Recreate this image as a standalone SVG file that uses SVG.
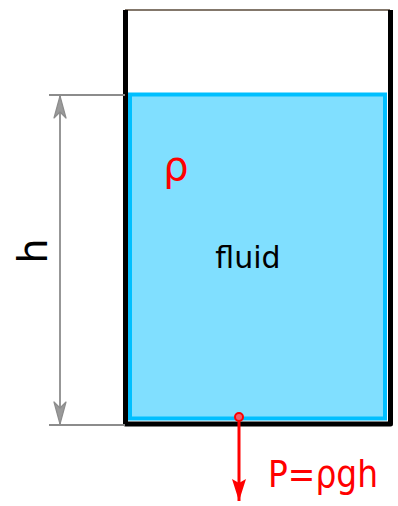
<svg xmlns="http://www.w3.org/2000/svg" width="398" height="506" viewBox="0 0 398 506">
<defs>
<style>
.dim{stroke:#8c8c8c;stroke-width:2;fill:none}
.red{fill:#ff0000;font-family:"DejaVu Sans","Liberation Sans",sans-serif}
</style>
<marker id="garr" viewBox="0 0 24 14" refX="23" refY="7" markerWidth="24" markerHeight="14" markerUnits="userSpaceOnUse" orient="auto-start-reverse">
<path d="M23,7 L1,1 L7,7 L1,13 Z" fill="#9a9a9a" stroke="#8c8c8c" stroke-width="1.2" stroke-linejoin="round"/>
</marker>
<marker id="rarr" viewBox="0 0 24 16" refX="23" refY="8" markerWidth="24" markerHeight="16" markerUnits="userSpaceOnUse" orient="auto">
<path d="M23,8 L1,1 L5,8 L1,15 Z" fill="#ff0000"/>
</marker>
</defs>
<g id="tank">
<rect x="130" y="94.5" width="255" height="324" fill="#80dfff" stroke="#00bfff" stroke-width="4"/>
<line x1="125" y1="10" x2="390" y2="10" stroke="#5a4a3a" stroke-width="1.5"/>
<polyline points="125.5,10 125.5,424 390.5,424 390.5,10" fill="none" stroke="#000" stroke-width="5" stroke-linejoin="round"/>
</g>
<g id="connectors">
<line class="dim" x1="49" y1="95" x2="125" y2="95"/>
<line class="dim" x1="49" y1="425" x2="125" y2="425"/>
<line class="dim" x1="60" y1="96" x2="60" y2="424" marker-start="url(#garr)" marker-end="url(#garr)" style="stroke-width:1.8"/>
<line x1="239" y1="417" x2="239" y2="501" stroke="#ff0000" stroke-width="3" marker-end="url(#rarr)"/>
<circle cx="239" cy="417" r="4" fill="#f06070" stroke="#ff0000" stroke-width="2"/>
</g>
<g id="label-h">
<text x="0" y="0" transform="translate(47,251) rotate(-90)" text-anchor="middle" font-family="DejaVu Sans,sans-serif" font-size="40" fill="#000">h</text>
</g>
<g id="label-fluid">
<text x="248" y="268" text-anchor="middle" font-family="DejaVu Sans,sans-serif" font-size="30" fill="#000">fluid</text>
</g>
<g id="label-rho">
<text class="red" x="176" y="180" text-anchor="middle" font-size="40">ρ</text>
</g>
<g id="label-formula">
<text class="red" x="268" y="487" font-size="38" textLength="110" lengthAdjust="spacingAndGlyphs">P=ρgh</text>
</g>
</svg>
